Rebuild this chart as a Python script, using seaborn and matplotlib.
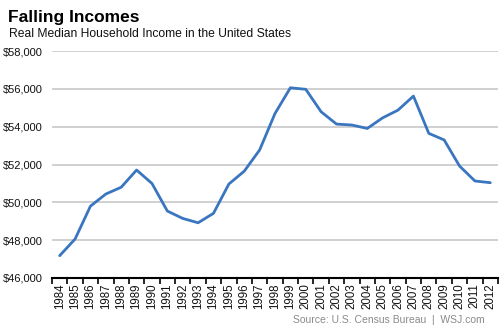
import matplotlib
matplotlib.use("Agg")
import matplotlib.pyplot as plt
import seaborn as sns
import numpy as np
import pandas as pd
from matplotlib.ticker import FixedLocator, FuncFormatter

years = list(range(1984, 2013))
income = [47180, 48060, 49800, 50440, 50800, 51710, 51000, 49540, 49150, 48920,
          49420, 50970, 51650, 52770, 54700, 56060, 55980, 54790, 54140, 54090,
          53910, 54470, 54880, 55620, 53650, 53300, 51920, 51130, 51040]
yticks = [46000, 48000, 50000, 52000, 54000, 56000, 58000]

title = "Falling Incomes"
subtitle = "Real Median Household Income in the United States"
source = "Source: U.S. Census Bureau  |  WSJ.com"

sns.set_theme(style="white")
plt.rcParams['font.family'] = ['Liberation Sans', 'DejaVu Sans']

df = pd.DataFrame({"year": years, "income": income})

fig = plt.figure(figsize=(5, 3.34), dpi=100)
ax = fig.add_axes([0.104, 0.1677, 0.892, 0.6793])
sns.lineplot(data=df, x="year", y="income", ax=ax, color="#3a76c0", linewidth=2.0)

ax.set_xlim(years[0] - 0.5, years[-1] + 0.5)
ax.set_ylim(yticks[0], yticks[-1])
ax.set_yticks(yticks)
ax.yaxis.set_major_formatter(FuncFormatter(lambda v, p: f"${int(v):,}"))
ax.set_xticks(years)
ax.set_xticklabels([str(y) for y in years], rotation=90, fontsize=8.3, color="#111111")
ax.xaxis.set_minor_locator(FixedLocator([y - 0.5 for y in years] + [years[-1] + 0.5]))
ax.tick_params(axis="x", which="major", length=0, pad=4)
ax.tick_params(axis="x", which="minor", length=4, width=1.2, color="black", direction="out", bottom=True)
ax.tick_params(axis="y", length=0, pad=6.5, labelsize=8, labelcolor="#111111")
ax.grid(axis="y", color="#c8c8c8", linewidth=1.2)
ax.set_axisbelow(True)
for s in ["left", "right", "top"]:
    ax.spines[s].set_visible(False)
ax.spines["bottom"].set_color("black")
ax.spines["bottom"].set_linewidth(1.5)
ax.set_xlabel("")
ax.set_ylabel("")

fig.text(0.016, 0.933, title, fontsize=12.5, fontweight="bold", color="black", va="baseline")
fig.text(0.018, 0.889, subtitle, fontsize=8.7, color="#111111", va="baseline")
fig.text(0.97, 0.033, source, fontsize=7.5, color="#8a8a8a", ha="right", va="baseline")

fig.savefig("out.png", dpi=100)
